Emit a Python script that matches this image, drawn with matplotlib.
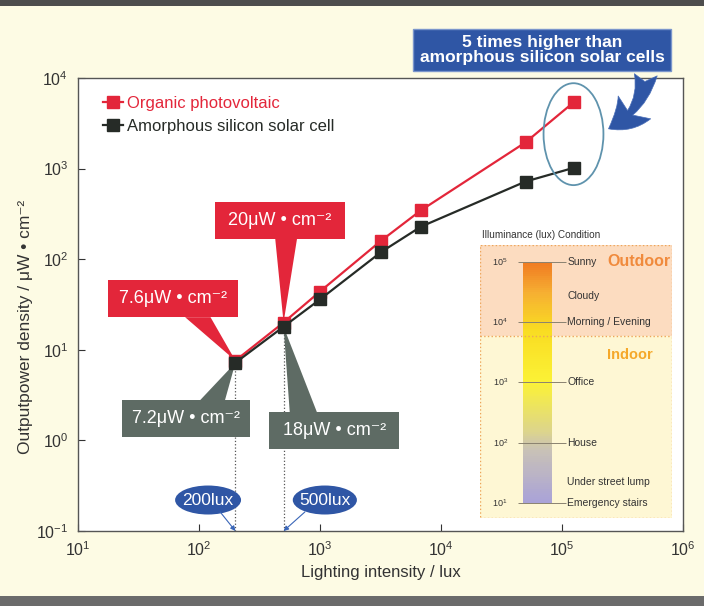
import numpy as np
import matplotlib
matplotlib.use("Agg")
import matplotlib.pyplot as plt
from matplotlib.patches import Rectangle, Ellipse, FancyArrowPatch, Polygon
from matplotlib.colors import LinearSegmentedColormap
from matplotlib.ticker import LogLocator, NullLocator

plt.rcParams['font.family'] = ['Liberation Sans', 'DejaVu Sans']
plt.rcParams['mathtext.default'] = 'regular'

# ─── Daten ────────────────────────────────────────────────────────────────────
lux = [200, 500, 1000, 3200, 6800, 50000, 125000]
opv = [7.6, 20, 44, 160, 345, 1950, 5400]      # Organic photovoltaic
asi = [7.2, 18, 36, 120, 228, 720, 1020]       # Amorphous silicon

cond_names = ["Sunny", "Cloudy", "Morning / Evening", "Office", "House",
              "Under street lump", "Emergency stairs"]
cond_lux = [1e5, 2.7e4, 1e4, 1e3, 1e2, 22, 10]
decades = [1e1, 1e2, 1e3, 1e4, 1e5]
outdoor_min = 5900

RED = "#e3263a"
BLACK = "#262b27"
GRAY = "#5e6b64"
BLUE = "#2f56a5"

fig = plt.figure(figsize=(7.04, 6.06), dpi=100, facecolor="#fdfbe4")

# Rahmenbalken oben/unten
fig.patches.append(Rectangle((0, 1 - 6/606), 1, 6/606, transform=fig.transFigure,
                             fc="#4d4d4d", ec="none"))
fig.patches.append(Rectangle((0, 0), 1, 10/606, transform=fig.transFigure,
                             fc="#6b6b6b", ec="none"))

# ─── Hauptachse ───────────────────────────────────────────────────────────────
ax = fig.add_axes([78/704, 1 - 531/606, 605/704, 453/606])
ax.set_xscale("log")
ax.set_yscale("log")
ax.set_xlim(10, 1e6)
ax.set_ylim(0.1, 1e4)
ax.xaxis.set_major_locator(LogLocator(base=10, numticks=10))
ax.yaxis.set_major_locator(LogLocator(base=10, numticks=10))
ax.xaxis.set_minor_locator(NullLocator())
ax.yaxis.set_minor_locator(NullLocator())
ax.tick_params(direction="in", length=5, labelsize=11.5, colors="#333333", pad=7)
for s in ax.spines.values():
    s.set_color("#555555")
    s.set_linewidth(1.0)

ax.set_xlabel("Lighting intensity / lux", fontsize=12, color="#333333", labelpad=4)
ax.set_ylabel("Outputpower density / μW • cm⁻²", fontsize=12.5, color="#333333")
ax.yaxis.set_label_coords(-0.074, 0.45)

ax.plot(lux, opv, color=RED, lw=1.6, marker="s", ms=8.5, mec=RED, mfc=RED,
        label="Organic photovoltaic", zorder=3)
ax.plot(lux, asi, color=BLACK, lw=1.6, marker="s", ms=8.5, mec=BLACK, mfc=BLACK,
        label="Amorphous silicon solar cell", zorder=4)

ax.vlines(lux[:2], 0.1, asi[:2], colors="#555555", linestyles=":", lw=0.9, zorder=2)

leg = ax.legend(loc="upper left", bbox_to_anchor=(0.03, 0.975), frameon=False,
                fontsize=12, handlelength=1.2, handletextpad=0.25, labelspacing=0.5,
                borderaxespad=0)
for t, c in zip(leg.get_texts(), [RED, BLACK]):
    t.set_color(c)

# ─── Sprechblasen (Kasten + Dreieck zur Messstelle) ───────────────────────────
def to_axes(xy):
    return ax.transAxes.inverted().transform(ax.transData.transform(xy))

def callout(text, xy, left, bottom, w, base_x, base_y, color):
    tip = to_axes(xy)
    ax.add_patch(Polygon([(base_x[0], base_y), (base_x[1], base_y), tuple(tip)],
                         closed=True, transform=ax.transAxes, fc=color, ec="none",
                         zorder=2.5))
    h = 0.082
    ax.add_patch(Rectangle((left, bottom), w, h, transform=ax.transAxes, fc=color,
                           ec="none", zorder=6))
    ax.text(left + w / 2, bottom + h / 2, text, transform=ax.transAxes,
            ha="center", va="center", color="white", fontsize=13, zorder=7)

callout("7.6μW • cm⁻²", (lux[0], opv[0]), 0.050, 0.472, 0.215,
        (0.177, 0.219), 0.472, RED)
callout("20μW • cm⁻²", (lux[1], opv[1]), 0.226, 0.645, 0.215,
        (0.326, 0.362), 0.645, RED)
callout("7.2μW • cm⁻²", (lux[0], asi[0]), 0.073, 0.2075, 0.212,
        (0.202, 0.243), 0.289, GRAY)
callout("18μW • cm⁻²", (lux[1], asi[1]), 0.316, 0.181, 0.215,
        (0.350, 0.395), 0.262, GRAY)

# Lux-Markierungen
for lab, x, cx, ex, ew in [("200lux", lux[0], 0.215, 0.235, 0.109),
                           ("500lux", lux[1], 0.408, 0.375, 0.106)]:
    ax.add_patch(Ellipse((cx, 0.0684), ew, 0.064, transform=ax.transAxes,
                         fc=BLUE, ec="none", zorder=6))
    ax.text(cx, 0.0684, lab, transform=ax.transAxes, ha="center", va="center",
            color="white", fontsize=12.5, zorder=7)
    ax.annotate("", xy=(x, 0.1), xytext=(ex, 0.042), textcoords="axes fraction",
                arrowprops=dict(arrowstyle="-|>", color="#3a66b8", lw=0.8,
                                mutation_scale=7, shrinkA=0, shrinkB=0), zorder=6)

ax.add_patch(Ellipse((0.819, 0.876), 0.099, 0.225, transform=ax.transAxes,
                     fill=False, ec="#5f93ad", lw=1.3, clip_on=False, zorder=5))

fig.text(542/704, 1 - 50/606, "5 times higher than\namorphous silicon solar cells",
         ha="center", va="center", fontsize=12.5, fontweight="bold", color="white",
         linespacing=1.0,
         bbox=dict(boxstyle="square,pad=0.35", fc=BLUE, ec="#7b96cc", lw=1))

fig.patches.append(FancyArrowPatch(
    posA=(646/704, 1 - 72/606), posB=(606/704, 1 - 130/606),
    transform=fig.transFigure, connectionstyle="arc3,rad=-0.3",
    arrowstyle="fancy,head_width=1.3,head_length=1.1,tail_width=0.75",
    mutation_scale=22, fc=BLUE, ec="#4a6fb8", lw=0.5, zorder=7))

# ─── Einschub: Beleuchtungsstärke ─────────────────────────────────────────────
ins = fig.add_axes([480/704, 1 - 518/606, 192/704, 273/606])
ins.set_yscale("log")
ins.set_xlim(0, 1)
ins.set_ylim(10**0.75, 10**5.28)
ins.axis("off")
ins.axhspan(outdoor_min, 10**5.28, fc="#fcdcc0", ec="none")
ins.axhspan(10**0.75, outdoor_min, fc="#fef7d4", ec="none")
ins.add_patch(Rectangle((0, 0), 1, 1, transform=ins.transAxes, fill=False,
                        ec="#eda55a", lw=1.0, ls=":"))
ins.axhline(outdoor_min, color="#eda55a", lw=1.0, ls=":")

cmap = LinearSegmentedColormap.from_list("lux", [
    (0.0, "#a9a2d8"), (0.22, "#c9c2b6"), (0.3, "#ddd58a"), (0.5, "#fbf236"),
    (0.72, "#f9dc22"), (0.87, "#f6b032"), (1.0, "#f07a22")])
yedges = np.logspace(1, 5, 120)
vals = np.log10(np.sqrt(yedges[:-1] * yedges[1:])).reshape(-1, 1)
ins.pcolormesh([0.224, 0.375], yedges, (vals - 1) / 4, cmap=cmap, vmin=0, vmax=1,
               shading="flat")
ins.hlines(decades, 0.2, 0.45, colors="#8a8270", lw=0.7)

for d in decades:
    ins.text(0.145, d, f"$10^{{{int(np.log10(d))}}}$", ha="right", va="center",
             fontsize=6.5, color="#333333")
for name, v in zip(cond_names, cond_lux):
    ins.text(0.455, v, name, ha="left", va="center", fontsize=7.5, color="#333333")

ins.text(0.99, 1e5, "Outdoor", ha="right", va="center", fontsize=11.5,
         fontweight="bold", color="#f08a3c")
ins.text(0.78, 10**3.45, "Indoor", ha="center", va="center", fontsize=10.5,
         fontweight="bold", color="#f5a82a")

fig.text(482/704, 1 - 235/606, "Illuminance (lux) Condition", ha="left",
         va="center", fontsize=7.2, color="#333333")

plt.savefig("out.png", dpi=100, facecolor=fig.get_facecolor())
plt.close()
